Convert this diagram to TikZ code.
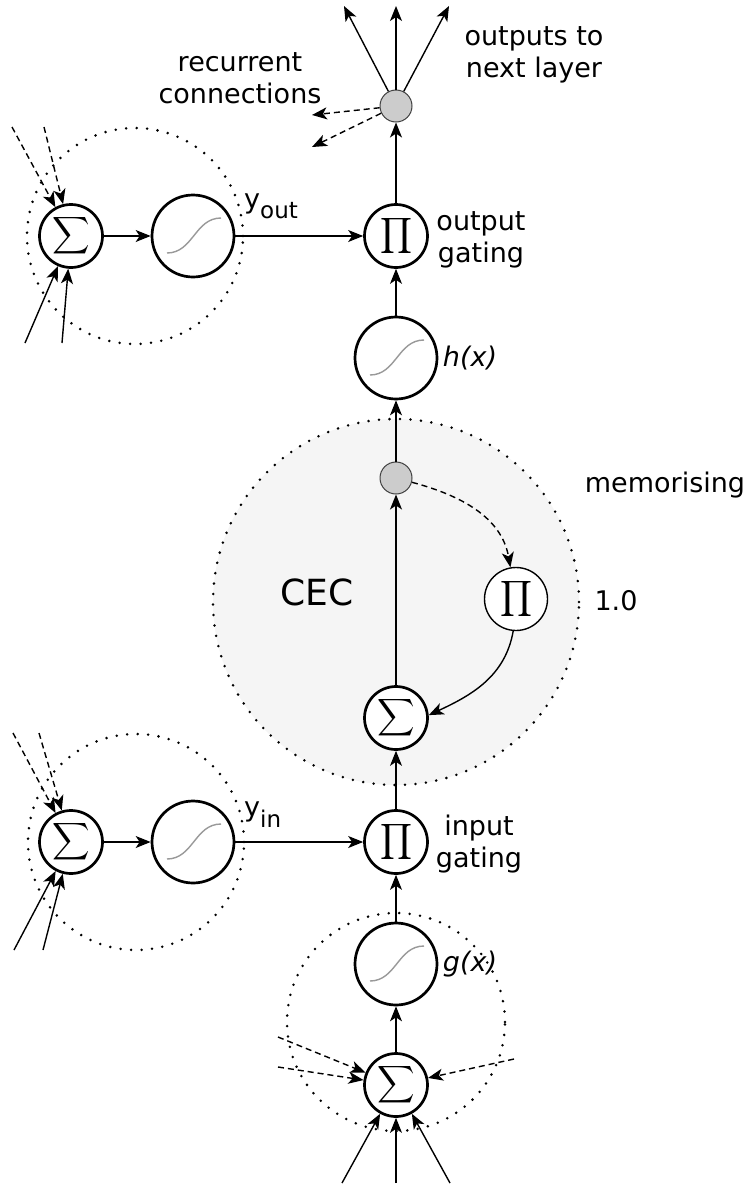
\documentclass[tikz,border=0pt]{standalone}
\usepackage{fontspec}
\setmainfont{DejaVu Sans}
\usepackage{amsmath}
\usepackage{graphicx}
\usetikzlibrary{arrows.meta}

\tikzset{
  unit/.style={circle, draw, line width=2.7pt, fill=white, inner sep=0pt},
  sumunit/.style={unit, minimum size=63pt},
  squash/.style={unit, minimum size=82pt},
  junction/.style={circle, draw=black!75, fill=black!20, line width=1pt, minimum size=32pt, inner sep=0pt},
  conn/.style={-{Stealth[length=15pt,width=12pt,inset=4pt]}, line width=1.4pt},
  dconn/.style={conn, dash pattern=on 6pt off 4pt},
  ring/.style={line width=2.8pt, dash pattern=on 0pt off 10.5pt, line cap=round},
  sigcurve/.style={draw=black!40, line width=1.4pt},
  lbl/.style={font=\fontsize{27}{32}\selectfont, inner sep=0pt, align=center}
}
\newcommand{\sumglyph}{\scalebox{2.6}{$\displaystyle\sum$}}
\newcommand{\prodglyph}{\scalebox{2.5}{$\displaystyle\prod$}}

\begin{document}
\begin{tikzpicture}
\useasboundingbox (0,0) rectangle (749pt,-1184pt);
\begin{scope}[x=1pt,y=1pt]
% rings
\fill[black!4] (396,-602) circle (183pt);
\draw[ring] (396,-602) circle (183pt);
\draw[ring] (135,-236) circle (108pt);
\draw[ring] (136,-842) circle (108pt);
\draw[ring] (396,-1022) circle (109pt);

% units
\node[sumunit] (sumout) at (71,-236) {\sumglyph};
\node[squash] (sqout) at (193,-236) {};
\node[sumunit] (gout) at (396,-236) {\prodglyph};
\node[junction] (fan) at (396,-106) {};
\node[squash] (hx) at (396,-358) {};
\node[junction] (cdot) at (396,-478) {};
\node[sumunit, line width=1.4pt] (cprod) at (516,-599) {\prodglyph};
\node[sumunit] (csum) at (396,-718) {\sumglyph};
\node[sumunit] (sumin) at (71,-842) {\sumglyph};
\node[squash] (sqin) at (193,-842) {};
\node[sumunit] (gin) at (396,-842) {\prodglyph};
\node[squash] (gx) at (396,-964) {};
\node[sumunit] (sumcell) at (396,-1085) {\sumglyph};

\foreach \f in {sqout,hx,sqin,gx}
  \draw[sigcurve] ([shift={(-26,-17)}]\f.center) .. controls +(26,0) and +(-26,0) .. ([shift={(28,18)}]\f.center);

% free ends
\coordinate (o1) at (344,-6);
\coordinate (o2) at (396,-6);
\coordinate (o3) at (449,-6);
\coordinate (r1) at (312,-115);
\coordinate (r2) at (312,-147);
\coordinate (a1) at (12,-127);
\coordinate (a2) at (44,-127);
\coordinate (a3) at (25,-343);
\coordinate (a4) at (62,-343);
\coordinate (b1) at (13,-733);
\coordinate (b2) at (39,-733);
\coordinate (b3) at (14,-950);
\coordinate (b4) at (43,-950);
\coordinate (c1) at (342,-1183);
\coordinate (c2) at (396,-1183);
\coordinate (c3) at (450,-1183);
\coordinate (c4) at (278,-1037);
\coordinate (c5) at (278,-1067);
\coordinate (c6) at (514,-1059);

% connections
\foreach \p in {o1,o2,o3} \draw[conn] (fan) -- (\p);
\foreach \p in {r1,r2} \draw[dconn] (fan) -- (\p);
\draw[conn] (gout) -- (fan);
\draw[conn] (sumout) -- (sqout);
\draw[conn] (sqout) -- (gout);
\draw[conn] (hx) -- (gout);
\draw[conn] (cdot) -- (hx);
\draw[conn] (csum) -- (cdot);
\draw[dconn] (cdot) to[out=-15,in=100] (cprod.100);
\draw[conn] (cprod.265) to[out=-100,in=25] (csum.5);
\draw[conn] (gin) -- (csum);
\draw[conn] (sumin) -- (sqin);
\draw[conn] (sqin) -- (gin);
\draw[conn] (gx) -- (gin);
\draw[conn] (sumcell) -- (gx);
\foreach \p in {a1,a2} \draw[dconn] (\p) -- (sumout);
\foreach \p in {a3,a4} \draw[conn] (\p) -- (sumout);
\foreach \p in {b1,b2} \draw[dconn] (\p) -- (sumin);
\foreach \p in {b3,b4} \draw[conn] (\p) -- (sumin);
\foreach \p in {c1,c2,c3} \draw[conn] (\p) -- (sumcell);
\foreach \p in {c4,c5,c6} \draw[dconn] (\p) -- (sumcell);

% labels
\node[lbl] (lrec) at (240,-78) {recurrent\\connections};
\node[lbl] (lout) at (534,-55) {outputs to\\next layer};
\node[lbl] (lgout) at (481,-240) {output\\gating};
\node[lbl] (lgin) at (479,-844) {input\\gating};
\node[lbl, anchor=base west] (lyout) at (244,-208) {y\raisebox{-10pt}{\fontsize{23}{23}\selectfont out}};
\node[lbl, anchor=base west] (lyin) at (244,-816) {y\raisebox{-11pt}{\fontsize{23}{23}\selectfont in}};
\node[lbl, font=\fontsize{27}{32}\selectfont\itshape] (lhx) at (470,-358) {h(x)};
\node[lbl, font=\fontsize{27}{32}\selectfont\itshape] (lgx) at (470,-964) {g(x)};
\node[lbl, anchor=base] (lmem) at (665,-492) {memorising};
\node[lbl, anchor=base] (lone) at (616,-610) {1.0};
\node[lbl, anchor=base, font=\fontsize{36}{40}\selectfont] (lcec) at (317,-605) {CEC};
\end{scope}
\end{tikzpicture}
\end{document}
